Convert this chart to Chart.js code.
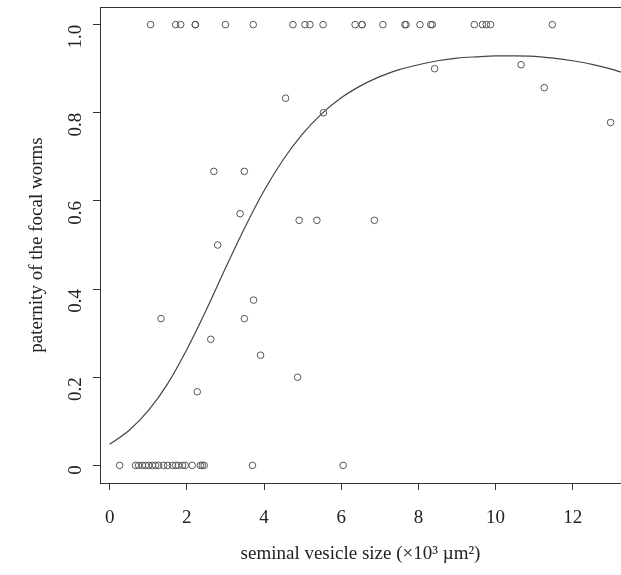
<!DOCTYPE html>
<html>
<head>
  <title>Paternity vs seminal vesicle size</title>
  <script src="https://cdn.jsdelivr.net/npm/chart.js"></script>
  <style>
    html, body { margin: 0; padding: 0; background: #fff; }
    #wrap { width: 621px; height: 575px; }
  </style>
</head>
<body>
  <div id="wrap"><canvas id="chart" width="621" height="575"></canvas></div>

  <script>
    // observed worms: seminal vesicle size (x10^3 um^2) and paternity share
    const sizeTop = [1.06, 1.71, 1.84, 2.22, 2.22, 3.00, 3.72, 4.75, 5.06, 5.19, 5.53, 6.36,
      6.54, 6.54, 7.08, 7.65, 7.68, 8.04, 8.32, 8.36, 9.45, 9.66, 9.76, 9.87, 11.47];
    const sizeBottom = [0.26, 0.67, 0.75, 0.85, 0.93, 1.01, 1.11, 1.19, 1.27, 1.40, 1.50,
      1.63, 1.71, 1.78, 1.89, 1.96, 2.14, 2.35, 2.40, 2.45, 3.70, 6.05];
    const sizeMid = [4.56, 5.54, 2.70, 3.49, 3.38, 4.91, 5.37, 6.86, 2.80, 3.73, 1.33, 3.49,
      2.62, 3.91, 4.87, 2.27, 8.42, 10.66, 11.26, 12.98];
    const paternityMid = [0.833, 0.8, 0.667, 0.667, 0.571, 0.556, 0.556, 0.556, 0.5, 0.375,
      0.333, 0.333, 0.286, 0.25, 0.2, 0.167, 0.9, 0.909, 0.857, 0.778];

    // fitted curve
    const curveX = [0, 0.5, 1, 1.5, 2, 2.5, 3, 3.5, 4, 4.5, 5, 5.5, 6, 6.5, 7, 7.5, 8, 8.5,
      9, 9.5, 10, 10.5, 11, 11.5, 12, 12.5, 13, 13.25];
    const curveY = [0.048, 0.079, 0.124, 0.185, 0.263, 0.352, 0.447, 0.539, 0.623, 0.694,
      0.752, 0.798, 0.834, 0.861, 0.882, 0.898, 0.909, 0.918, 0.924, 0.927, 0.929, 0.929,
      0.928, 0.924, 0.918, 0.910, 0.899, 0.892];

    const xTicks = [0, 2, 4, 6, 8, 10, 12];
    const yTicks = [0, 0.2, 0.4, 0.6, 0.8, 1.0];

    const points = [];
    sizeTop.forEach(x => points.push({ x: x, y: 1 }));
    sizeBottom.forEach(x => points.push({ x: x, y: 0 }));
    sizeMid.forEach((x, i) => points.push({ x: x, y: paternityMid[i] }));

    const curve = curveX.map((x, i) => ({ x: x, y: curveY[i] }));

    const serif = "'Liberation Serif', 'DejaVu Serif', serif";
    const ink = "#222";

    // box round the plot region, like base R
    const frame = {
      id: "frame",
      afterDraw(chart) {
        const a = chart.chartArea;
        const ctx = chart.ctx;
        ctx.save();
        ctx.strokeStyle = "#333";
        ctx.lineWidth = 1;
        ctx.strokeRect(a.left + 0.5, a.top + 0.5, a.right - a.left, a.bottom - a.top);
        ctx.restore();
      }
    };

    new Chart(document.getElementById("chart"), {
      type: "scatter",
      data: {
        datasets: [
          {
            type: "line",
            data: curve,
            borderColor: "#444",
            borderWidth: 1.2,
            pointRadius: 0,
            fill: false,
            cubicInterpolationMode: "monotone",
            order: 2
          },
          {
            data: points,
            pointRadius: 3.3,
            pointBorderWidth: 1,
            pointBorderColor: "#555",
            pointBackgroundColor: "rgba(0,0,0,0)",
            order: 1
          }
        ]
      },
      options: {
        responsive: false,
        animation: false,
        clip: false,
        layout: { autoPadding: false, padding: { top: 7, right: 0, left: 0, bottom: 0 } },
        plugins: {
          legend: { display: false },
          tooltip: { enabled: false }
        },
        scales: {
          x: {
            type: "linear",
            min: -0.25,
            max: 13.25,
            afterBuildTicks: s => { s.ticks = xTicks.map(v => ({ value: v })); },
            afterFit: s => { s.height = 92; s.paddingLeft = 0; s.paddingRight = 0; },
            grid: { drawOnChartArea: false, drawTicks: true, tickLength: 7, tickColor: "#333" },
            border: { display: false },
            ticks: {
              color: ink,
              padding: 17,
              maxRotation: 0,
              font: { family: serif, size: 19 }
            },
            title: {
              display: true,
              text: "seminal vesicle size (×10³ µm²)",
              color: ink,
              font: { family: serif, size: 19 },
              padding: { top: 8, bottom: 10 }
            }
          },
          y: {
            type: "linear",
            min: -0.04,
            max: 1.04,
            afterBuildTicks: s => { s.ticks = yTicks.map(v => ({ value: v })); },
            afterFit: s => { s.width = 100; s.paddingTop = 0; s.paddingBottom = 0; },
            grid: { drawOnChartArea: false, drawTicks: true, tickLength: 7, tickColor: "#333" },
            border: { display: false },
            ticks: {
              color: ink,
              padding: 17,
              minRotation: 90,
              maxRotation: 90,
              font: { family: serif, size: 19 },
              callback: v => (v === 0 ? "0" : v.toFixed(1))
            },
            title: {
              display: true,
              text: "paternity of the focal worms",
              color: ink,
              font: { family: serif, size: 19 },
              padding: { top: 26, bottom: 0 }
            }
          }
        }
      },
      plugins: [frame]
    });
  </script>
</body>
</html>
